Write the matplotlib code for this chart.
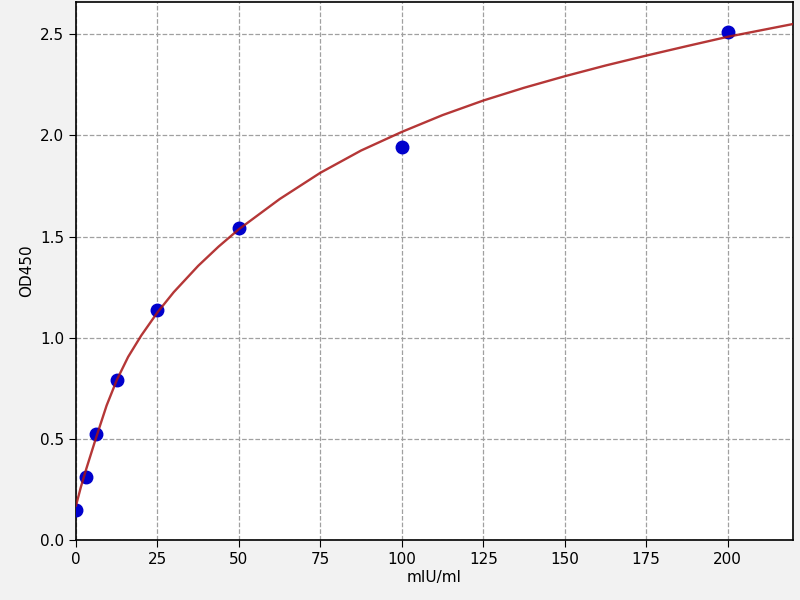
import matplotlib
matplotlib.use("Agg")
import matplotlib.pyplot as plt

# Standard points
conc = [0, 3.125, 6.25, 12.5, 25, 50, 100, 200]
od = [0.147, 0.312, 0.526, 0.792, 1.138, 1.543, 1.942, 2.513]

# Fitted curve
curve_x = [0, 1.5, 3.125, 6.25, 9.4, 12.5, 16, 20, 25, 30, 37.5, 43.75, 50, 62.5, 75, 87.5,
           100, 112.5, 125, 137.5, 150, 162.5, 175, 187.5, 200, 220]
curve_y = [0.17, 0.262, 0.35, 0.51, 0.665, 0.79, 0.905, 1.01, 1.125, 1.225, 1.355, 1.45, 1.536,
           1.685, 1.815, 1.925, 2.017, 2.10, 2.172, 2.235, 2.292, 2.345, 2.394, 2.441, 2.487, 2.55]

xticks = [0, 25, 50, 75, 100, 125, 150, 175, 200]
yticks = [0.0, 0.5, 1.0, 1.5, 2.0, 2.5]

fig = plt.figure(figsize=(8, 6), dpi=100, facecolor="#f2f2f2")
ax = fig.add_axes([0.095, 0.1, 0.896, 0.897])
ax.set_facecolor("white")

ax.plot(conc, od, "o", color="#0000cc", markersize=9, zorder=3)
ax.plot(curve_x, curve_y, "-", color="#a81414", lw=1.7, alpha=0.85, zorder=4)

ax.set_xlim(0, 220)
ax.set_ylim(0, 2.66)
ax.set_xticks(xticks)
ax.set_xticklabels([str(t) for t in xticks])
ax.set_yticks(yticks)
ax.set_yticklabels([f"{t:.1f}" for t in yticks])
ax.grid(True, linestyle="--", color="#a0a0a0", linewidth=0.9)
ax.set_axisbelow(True)
ax.tick_params(labelsize=11, length=5)
ax.set_xlabel("mIU/ml", fontsize=11, labelpad=2)
ax.set_ylabel("OD450", fontsize=11)
for s in ax.spines.values():
    s.set_linewidth(1.2)

fig.savefig("out.png", dpi=100, facecolor=fig.get_facecolor())
